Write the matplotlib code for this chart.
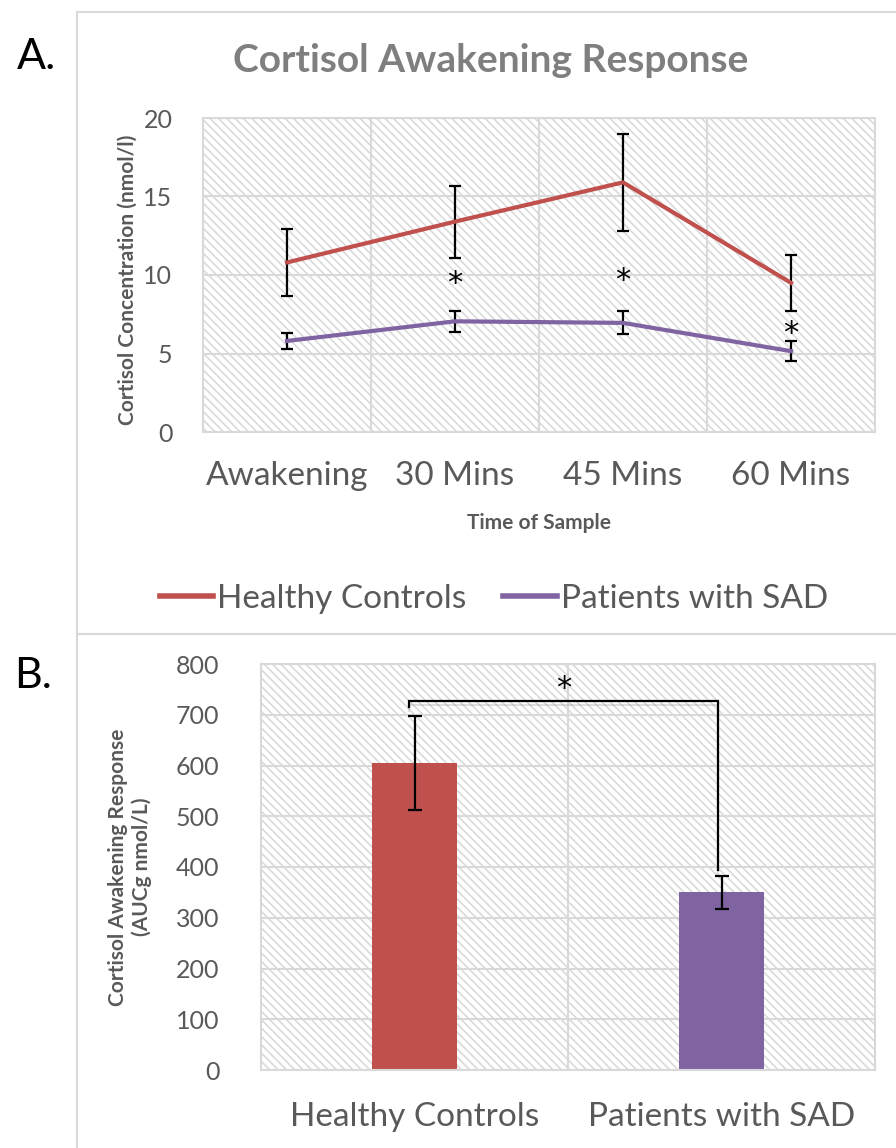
import matplotlib.pyplot as plt
import matplotlib.patheffects as pe
import matplotlib.transforms as mtransforms
from matplotlib.patches import Rectangle
from matplotlib.lines import Line2D
import numpy as np

# Daten
times = ['Awakening', '30 Mins', '45 Mins', '60 Mins']
healthy = [10.8, 13.4, 15.9, 9.5]
healthy_err = [2.15, 2.3, 3.1, 1.8]
sad = [5.8, 7.05, 6.95, 5.15]
sad_err = [0.5, 0.67, 0.73, 0.64]
star_idx = [1, 2, 3]
star_y = [9.8, 10.0, 6.6]

groups = ['Healthy Controls', 'Patients with SAD']
auc = [605, 350]
auc_err = [92, 32]

RED = '#c0504d'
PURPLE = '#8064a2'
TXT = '#595959'
GRID = '#d9d9d9'
FONT = ['Lato', 'DejaVu Sans']

plt.rcParams['font.family'] = FONT
plt.rcParams['hatch.color'] = '#dadada'
plt.rcParams['hatch.linewidth'] = 1.2

W, H = 896, 1148
fx = lambda px: px / W
fy = lambda py: 1 - py / H

fig = plt.figure(figsize=(W / 100, H / 100), dpi=100)

# Sternchen sitzen in DejaVu hoch im Schriftkasten -> etwas nach unten schieben
star_shift = mtransforms.ScaledTranslation(0, -4 / 72, fig.dpi_scale_trans)

# Rahmen der beiden Teilgrafiken
fig.add_artist(Rectangle((fx(77), fy(634)), fx(830), (634 - 12) / H, transform=fig.transFigure,
                         fill=False, edgecolor=GRID, lw=1.5))
fig.add_artist(Rectangle((fx(77), fy(1160)), fx(830), (1160 - 634) / H, transform=fig.transFigure,
                         fill=False, edgecolor=GRID, lw=1.5))


def style_axes(ax):
    ax.add_patch(Rectangle((0, 0), 1, 1, transform=ax.transAxes, facecolor='white',
                           edgecolor='#dadada', hatch='\\\\\\\\', lw=0, zorder=0))
    ax.set_axisbelow(True)
    for s in ax.spines.values():
        s.set_color(GRID)
        s.set_linewidth(1.5)
    ax.tick_params(length=0, colors=TXT, which='both')


# ---------------- A ----------------
axA = fig.add_axes([fx(203), fy(432), 672 / W, 314 / H])
style_axes(axA)
x = np.arange(len(times))
axA.errorbar(x, healthy, yerr=healthy_err, color=RED, lw=3, ecolor='black', elinewidth=1.6,
             capsize=4.5, capthick=1.6, zorder=3)
axA.errorbar(x, sad, yerr=sad_err, color=PURPLE, lw=3, ecolor='black', elinewidth=1.6,
             capsize=4.5, capthick=1.6, zorder=3)
for i, yv in zip(star_idx, star_y):
    axA.text(i, yv, '*', ha='center', va='center', fontsize=22, color='black',
             family='DejaVu Sans', transform=axA.transData + star_shift)

axA.set_xlim(-0.5, 3.5)
axA.set_ylim(0, 20)
axA.set_yticks([0, 5, 10, 15, 20])
axA.set_xticks(x)
axA.set_xticklabels(times, fontsize=24)
axA.set_xticks(np.arange(-0.5, 3.6, 0.5), minor=True)
axA.tick_params(axis='y', labelsize=18, pad=22)
axA.tick_params(axis='x', pad=21)
axA.grid(axis='y', which='major', color=GRID, lw=1.5)
axA.grid(axis='x', which='minor', color=GRID, lw=1.5)

fig.text(fx(491), fy(61), 'Cortisol Awakening Response', ha='center', va='center',
         fontsize=28, fontweight='bold', color='#7f7f7f')
fig.text(fx(539), fy(523), 'Time of Sample', ha='center', va='center',
         fontsize=15, fontweight='bold', color=TXT)
fig.text(fx(128), fy(280), 'Cortisol Concentration (nmol/l)', ha='center', va='center',
         rotation=90, fontsize=15, fontweight='bold', color=TXT)
fig.text(fx(36), fy(57), 'A.', ha='center', va='center', fontsize=31, color='black')

handles = [Line2D([], [], color=RED, lw=4), Line2D([], [], color=PURPLE, lw=4)]
fig.legend(handles=handles, labels=['Healthy Controls', 'Patients with SAD'],
           loc='center', bbox_to_anchor=(fx(494), fy(599)), ncol=2, frameon=False,
           fontsize=24, handlelength=1.6, handletextpad=0.12, columnspacing=1.1,
           labelcolor=TXT)

# ---------------- B ----------------
axB = fig.add_axes([fx(261), fy(1070), 614 / W, 406 / H])
style_axes(axB)
xb = np.arange(len(groups))
axB.bar(xb, auc, width=0.277, color=[RED, PURPLE], zorder=2)
axB.errorbar(xb, auc, yerr=auc_err, fmt='none', ecolor='black', elinewidth=1.6,
             capsize=5, capthick=1.6, zorder=3)
axB.set_xlim(-0.5, 1.5)
axB.set_ylim(0, 800)
axB.set_yticks(np.arange(0, 801, 100))
axB.set_xticks(xb)
axB.set_xticklabels(groups, fontsize=24)
axB.set_xticks([0.5], minor=True)
axB.tick_params(axis='y', labelsize=18, pad=30)
axB.tick_params(axis='x', pad=23)
axB.grid(axis='y', which='major', color=GRID, lw=1.5)
axB.grid(axis='x', which='minor', color=GRID, lw=1.5)

# Signifikanzklammer
axB.plot([-0.018, -0.018, 0.989, 0.989], [715, 728, 728, 394], color='black', lw=1.6, zorder=4,
         solid_joinstyle='miter',
         path_effects=[pe.SimpleLineShadow(offset=(0, -3), shadow_color='gray', alpha=0.25),
                       pe.Normal()])
axB.text(0.487, 762, '*', ha='center', va='center', fontsize=22, color='black',
         family='DejaVu Sans', transform=axB.transData + star_shift)

fig.text(fx(130), fy(867), 'Cortisol Awakening Response\n(AUCg nmol/L)', ha='center', va='center',
         rotation=90, fontsize=15, fontweight='bold', color=TXT, linespacing=1.15)
fig.text(fx(33), fy(676), 'B.', ha='center', va='center', fontsize=31, color='black')

fig.savefig('out.png', dpi=100)
